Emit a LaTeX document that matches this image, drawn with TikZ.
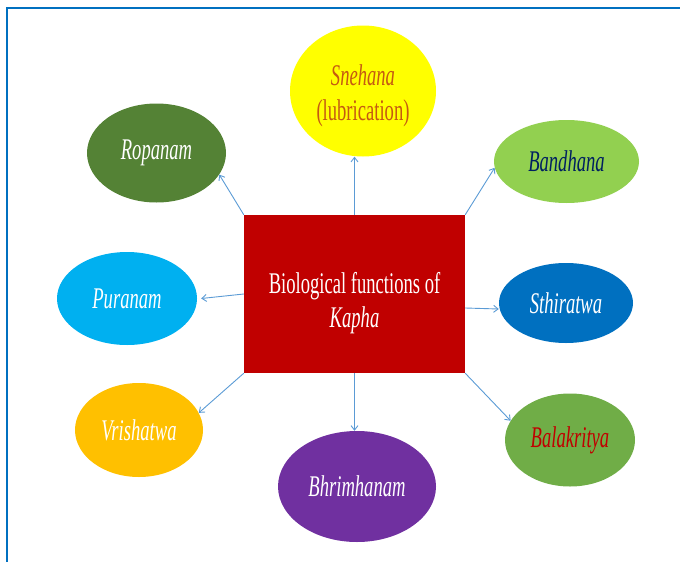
\documentclass[tikz,border=0pt]{standalone}
\usepackage{fontspec}
\setmainfont[FakeStretch=0.62]{Liberation Serif}
\usetikzlibrary{shapes.geometric,arrows.meta}
\definecolor{frameblue}{HTML}{0070C0}
\definecolor{arrowblue}{HTML}{5B9BD5}
\definecolor{boxred}{HTML}{C00000}
\definecolor{cyel}{HTML}{FFFF00}
\definecolor{cdkgreen}{HTML}{548235}
\definecolor{cltgreen}{HTML}{92D050}
\definecolor{ccyan}{HTML}{00B0F0}
\definecolor{cblue}{HTML}{0070C0}
\definecolor{camber}{HTML}{FFC000}
\definecolor{cpurple}{HTML}{7030A0}
\definecolor{cgreen}{HTML}{70AD47}
\definecolor{tbrown}{HTML}{C55A11}
\definecolor{tnavy}{HTML}{002060}
\definecolor{tred}{HTML}{C00000}
\tikzset{
  bubble/.style={ellipse, inner sep=0pt, text=white, font=\fontsize{30}{35}\selectfont\itshape, align=center},
  centerbox/.style={rectangle, fill=boxred, inner sep=0pt},
  boxtext/.style={text=white, font=\fontsize{30}{34}\selectfont, align=center, inner sep=0pt},
  arr/.style={draw=arrowblue, line width=0.9pt, -{Straight Barb[length=4.5pt,width=7pt,line width=0.9pt]}},
}
\begin{document}
\begin{tikzpicture}[x=1pt,y=-1pt]
\useasboundingbox (0,0) rectangle (680,562);
\draw[frameblue, line width=2.5pt] (7,562) -- (7,8) -- (680,8);
\node[centerbox, minimum width=221pt, minimum height=158pt,
  label={[boxtext, yshift=-9pt]center:Biological functions of\\\textit{Kapha}}] (box) at (354.5,294) {};
\node[bubble, fill=cyel, minimum width=146pt, minimum height=131pt,
  label={[bubble, text=tbrown, yshift=-5pt]center:Snehana\\\upshape(lubrication)}] (sn) at (363,91) {};
\node[bubble, fill=cdkgreen, minimum width=139pt, minimum height=99pt] (ro) at (156.5,153) {Ropanam};
\node[bubble, fill=cltgreen, text=tnavy, minimum width=145pt, minimum height=83pt] (bd) at (566.5,161.5) {Bandhana};
\node[bubble, fill=ccyan, minimum width=140pt, minimum height=93pt] (pu) at (127,298.5) {Puranam};
\node[bubble, fill=cblue, minimum width=134pt, minimum height=80pt] (st) at (566,303) {Sthiratwa};
\node[bubble, fill=camber, minimum width=128pt, minimum height=94pt] (vr) at (139,430) {Vrishatwa};
\node[bubble, fill=cpurple, minimum width=158pt, minimum height=111pt] (bh) at (357,486.5) {Bhrimhanam};
\node[bubble, fill=cgreen, text=tred, minimum width=130pt, minimum height=93pt] (bl) at (570,440) {Balakritya};
\draw[arr] (box.north) -- (box.north |- sn.south);
\draw[arr] (box.north west) -- (ro.-19);
\draw[arr] (box.north east) -- (bd.185);
\draw[arr] (box.west) -- ([xshift=4pt]pu.east);
\draw[arr] ([yshift=-14pt]box.east) -- ([yshift=-6pt]st.west);
\draw[arr] (box.south west) -- (vr.16);
\draw[arr] (box.south) -- (box.south |- bh.north);
\draw[arr] (box.south east) -- (bl.162);
\end{tikzpicture}
\end{document}
